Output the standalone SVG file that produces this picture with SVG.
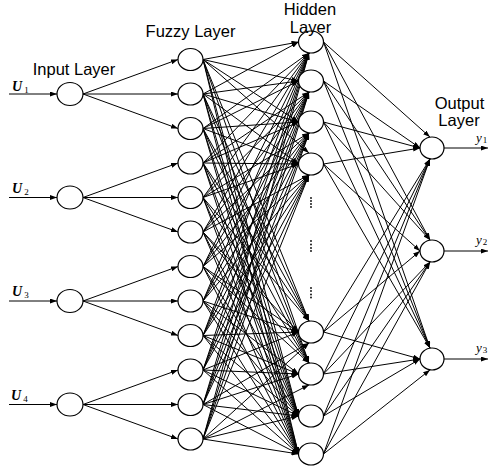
<svg xmlns="http://www.w3.org/2000/svg" width="489" height="468" viewBox="0 0 489 468">
<defs>
<marker id="a" viewBox="0 0 7 5" refX="7" refY="2.5" markerWidth="7" markerHeight="5" orient="auto" markerUnits="userSpaceOnUse"><path d="M0,0 L7,2.5 L0,5 z" fill="#000"/></marker>
<style>
.c line{stroke:#000;stroke-width:1;marker-end:url(#a)}
.n ellipse{fill:#fff;stroke:#000;stroke-width:1.2}
.l{font-family:"Liberation Sans",Arial,sans-serif;font-size:16.5px;fill:#000;text-anchor:middle}
.v{font-family:"Liberation Serif","Times New Roman",serif;font-style:italic;font-size:13px;fill:#000}
.u{font-weight:bold;font-size:14px}
.s{font-style:normal;font-weight:normal;font-size:9px}
.d circle{fill:#000}
</style>
</defs>
<rect width="489" height="468" fill="#fff"/>
<g id="connectors" class="c">
<line x1="9" y1="94" x2="57" y2="94"/>
<line x1="9" y1="197.5" x2="57" y2="197.5"/>
<line x1="9" y1="301" x2="57" y2="301"/>
<line x1="9" y1="404.5" x2="57" y2="404.5"/>
<line x1="83" y1="94" x2="178" y2="59.5"/>
<line x1="83" y1="94" x2="178" y2="94"/>
<line x1="83" y1="94" x2="178" y2="128.5"/>
<line x1="83" y1="197.5" x2="178" y2="163"/>
<line x1="83" y1="197.5" x2="178" y2="197.5"/>
<line x1="83" y1="197.5" x2="178" y2="232"/>
<line x1="83" y1="301" x2="178" y2="266.5"/>
<line x1="83" y1="301" x2="178" y2="301"/>
<line x1="83" y1="301" x2="178" y2="335.5"/>
<line x1="83" y1="404.5" x2="178" y2="370"/>
<line x1="83" y1="404.5" x2="178" y2="404.5"/>
<line x1="83" y1="404.5" x2="178" y2="439"/>
<!-- F1 -->
<line x1="203" y1="59.5" x2="298.5" y2="42"/>
<line x1="203" y1="59.5" x2="298.5" y2="81"/>
<line x1="203" y1="59.5" x2="298.5" y2="122"/>
<line x1="203" y1="59.5" x2="309" y2="153.1"/>
<line x1="203" y1="59.5" x2="309" y2="321.1"/>
<line x1="203" y1="59.5" x2="309" y2="363.1"/>
<line x1="203" y1="59.5" x2="298.5" y2="416"/>
<line x1="203" y1="59.5" x2="298.5" y2="454"/>
<!-- F2 -->
<line x1="203" y1="94" x2="298.5" y2="42"/>
<line x1="203" y1="94" x2="298.5" y2="81"/>
<line x1="203" y1="94" x2="298.5" y2="122"/>
<line x1="203" y1="94" x2="298.5" y2="164"/>
<line x1="203" y1="94" x2="309" y2="321.1"/>
<line x1="203" y1="94" x2="309" y2="363.1"/>
<line x1="203" y1="94" x2="298.5" y2="416"/>
<line x1="203" y1="94" x2="298.5" y2="454"/>
<!-- F3 -->
<line x1="203" y1="128.5" x2="309" y2="52.9"/>
<line x1="203" y1="128.5" x2="298.5" y2="81"/>
<line x1="203" y1="128.5" x2="298.5" y2="122"/>
<line x1="203" y1="128.5" x2="298.5" y2="164"/>
<line x1="203" y1="128.5" x2="309" y2="321.1"/>
<line x1="203" y1="128.5" x2="309" y2="363.1"/>
<line x1="203" y1="128.5" x2="298.5" y2="416"/>
<line x1="203" y1="128.5" x2="298.5" y2="454"/>
<!-- F4 -->
<line x1="203" y1="163" x2="309" y2="52.9"/>
<line x1="203" y1="163" x2="309" y2="91.9"/>
<line x1="203" y1="163" x2="298.5" y2="122"/>
<line x1="203" y1="163" x2="298.5" y2="164"/>
<line x1="203" y1="163" x2="309" y2="321.1"/>
<line x1="203" y1="163" x2="309" y2="363.1"/>
<line x1="203" y1="163" x2="298.5" y2="416"/>
<line x1="203" y1="163" x2="298.5" y2="454"/>
<!-- F5 -->
<line x1="203" y1="197.5" x2="309" y2="52.9"/>
<line x1="203" y1="197.5" x2="309" y2="91.9"/>
<line x1="203" y1="197.5" x2="309" y2="132.9"/>
<line x1="203" y1="197.5" x2="298.5" y2="164"/>
<line x1="203" y1="197.5" x2="309" y2="321.1"/>
<line x1="203" y1="197.5" x2="309" y2="363.1"/>
<line x1="203" y1="197.5" x2="298.5" y2="416"/>
<line x1="203" y1="197.5" x2="298.5" y2="454"/>
<!-- F6 -->
<line x1="203" y1="232" x2="309" y2="52.9"/>
<line x1="203" y1="232" x2="309" y2="91.9"/>
<line x1="203" y1="232" x2="309" y2="132.9"/>
<line x1="203" y1="232" x2="309" y2="174.9"/>
<line x1="203" y1="232" x2="298.5" y2="332"/>
<line x1="203" y1="232" x2="309" y2="363.1"/>
<line x1="203" y1="232" x2="298.5" y2="416"/>
<line x1="203" y1="232" x2="298.5" y2="454"/>
<!-- F7 -->
<line x1="203" y1="266.5" x2="309" y2="52.9"/>
<line x1="203" y1="266.5" x2="309" y2="91.9"/>
<line x1="203" y1="266.5" x2="309" y2="132.9"/>
<line x1="203" y1="266.5" x2="309" y2="174.9"/>
<line x1="203" y1="266.5" x2="298.5" y2="332"/>
<line x1="203" y1="266.5" x2="309" y2="363.1"/>
<line x1="203" y1="266.5" x2="298.5" y2="416"/>
<line x1="203" y1="266.5" x2="298.5" y2="454"/>
<!-- F8 -->
<line x1="203" y1="301" x2="309" y2="52.9"/>
<line x1="203" y1="301" x2="309" y2="91.9"/>
<line x1="203" y1="301" x2="309" y2="132.9"/>
<line x1="203" y1="301" x2="309" y2="174.9"/>
<line x1="203" y1="301" x2="298.5" y2="332"/>
<line x1="203" y1="301" x2="298.5" y2="374"/>
<line x1="203" y1="301" x2="298.5" y2="416"/>
<line x1="203" y1="301" x2="298.5" y2="454"/>
<!-- F9 -->
<line x1="203" y1="335.5" x2="309" y2="52.9"/>
<line x1="203" y1="335.5" x2="309" y2="91.9"/>
<line x1="203" y1="335.5" x2="309" y2="132.9"/>
<line x1="203" y1="335.5" x2="309" y2="174.9"/>
<line x1="203" y1="335.5" x2="298.5" y2="332"/>
<line x1="203" y1="335.5" x2="298.5" y2="374"/>
<line x1="203" y1="335.5" x2="298.5" y2="416"/>
<line x1="203" y1="335.5" x2="298.5" y2="454"/>
<!-- F10 -->
<line x1="203" y1="370" x2="309" y2="52.9"/>
<line x1="203" y1="370" x2="309" y2="91.9"/>
<line x1="203" y1="370" x2="309" y2="132.9"/>
<line x1="203" y1="370" x2="309" y2="174.9"/>
<line x1="203" y1="370" x2="298.5" y2="332"/>
<line x1="203" y1="370" x2="298.5" y2="374"/>
<line x1="203" y1="370" x2="298.5" y2="416"/>
<line x1="203" y1="370" x2="298.5" y2="454"/>
<!-- F11 -->
<line x1="203" y1="404.5" x2="309" y2="52.9"/>
<line x1="203" y1="404.5" x2="309" y2="91.9"/>
<line x1="203" y1="404.5" x2="309" y2="132.9"/>
<line x1="203" y1="404.5" x2="309" y2="174.9"/>
<line x1="203" y1="404.5" x2="309" y2="342.9"/>
<line x1="203" y1="404.5" x2="298.5" y2="374"/>
<line x1="203" y1="404.5" x2="298.5" y2="416"/>
<line x1="203" y1="404.5" x2="298.5" y2="454"/>
<!-- F12 -->
<line x1="203" y1="439" x2="309" y2="52.9"/>
<line x1="203" y1="439" x2="309" y2="91.9"/>
<line x1="203" y1="439" x2="309" y2="132.9"/>
<line x1="203" y1="439" x2="309" y2="174.9"/>
<line x1="203" y1="439" x2="309" y2="342.9"/>
<line x1="203" y1="439" x2="309" y2="384.9"/>
<line x1="203" y1="439" x2="298.5" y2="416"/>
<line x1="203" y1="439" x2="298.5" y2="454"/>
<!-- hidden to output -->
<line x1="323.5" y1="42" x2="430" y2="137.1"/>
<line x1="323.5" y1="42" x2="430" y2="240.1"/>
<line x1="323.5" y1="42" x2="430" y2="348.1"/>
<line x1="323.5" y1="81" x2="420" y2="148"/>
<line x1="323.5" y1="81" x2="430" y2="240.1"/>
<line x1="323.5" y1="81" x2="430" y2="348.1"/>
<line x1="323.5" y1="122" x2="420" y2="148"/>
<line x1="323.5" y1="122" x2="430" y2="240.1"/>
<line x1="323.5" y1="122" x2="430" y2="348.1"/>
<line x1="323.5" y1="164" x2="420" y2="148"/>
<line x1="323.5" y1="164" x2="420" y2="251"/>
<line x1="323.5" y1="164" x2="430" y2="348.1"/>
<line x1="323.5" y1="332" x2="430" y2="158.9"/>
<line x1="323.5" y1="332" x2="420" y2="251"/>
<line x1="323.5" y1="332" x2="420" y2="359"/>
<line x1="323.5" y1="374" x2="430" y2="158.9"/>
<line x1="323.5" y1="374" x2="430" y2="261.9"/>
<line x1="323.5" y1="374" x2="420" y2="359"/>
<line x1="323.5" y1="416" x2="430" y2="158.9"/>
<line x1="323.5" y1="416" x2="430" y2="261.9"/>
<line x1="323.5" y1="416" x2="420" y2="359"/>
<line x1="323.5" y1="454" x2="430" y2="158.9"/>
<line x1="323.5" y1="454" x2="430" y2="261.9"/>
<line x1="323.5" y1="454" x2="430" y2="369.9"/>
<line x1="444" y1="148" x2="488" y2="148"/>
<line x1="444" y1="251" x2="488" y2="251"/>
<line x1="444" y1="359" x2="488" y2="359"/>
</g>
<g class="n">
<g id="in1"><ellipse cx="70" cy="94" rx="13" ry="11.5"/></g>
<g id="in2"><ellipse cx="70" cy="197.5" rx="13" ry="11.5"/></g>
<g id="in3"><ellipse cx="70" cy="301" rx="13" ry="11.5"/></g>
<g id="in4"><ellipse cx="70" cy="404.5" rx="13" ry="11.5"/></g>
<g id="fz1"><ellipse cx="190.5" cy="59.5" rx="12.5" ry="11"/></g>
<g id="fz2"><ellipse cx="190.5" cy="94" rx="12.5" ry="11"/></g>
<g id="fz3"><ellipse cx="190.5" cy="128.5" rx="12.5" ry="11"/></g>
<g id="fz4"><ellipse cx="190.5" cy="163" rx="12.5" ry="11"/></g>
<g id="fz5"><ellipse cx="190.5" cy="197.5" rx="12.5" ry="11"/></g>
<g id="fz6"><ellipse cx="190.5" cy="232" rx="12.5" ry="11"/></g>
<g id="fz7"><ellipse cx="190.5" cy="266.5" rx="12.5" ry="11"/></g>
<g id="fz8"><ellipse cx="190.5" cy="301" rx="12.5" ry="11"/></g>
<g id="fz9"><ellipse cx="190.5" cy="335.5" rx="12.5" ry="11"/></g>
<g id="fz10"><ellipse cx="190.5" cy="370" rx="12.5" ry="11"/></g>
<g id="fz11"><ellipse cx="190.5" cy="404.5" rx="12.5" ry="11"/></g>
<g id="fz12"><ellipse cx="190.5" cy="439" rx="12.5" ry="11"/></g>
<g id="h1"><ellipse cx="311" cy="42" rx="12.5" ry="11"/></g>
<g id="h2"><ellipse cx="311" cy="81" rx="12.5" ry="11"/></g>
<g id="h3"><ellipse cx="311" cy="122" rx="12.5" ry="11"/></g>
<g id="h4"><ellipse cx="311" cy="164" rx="12.5" ry="11"/></g>
<g id="h5"><ellipse cx="311" cy="332" rx="12.5" ry="11"/></g>
<g id="h6"><ellipse cx="311" cy="374" rx="12.5" ry="11"/></g>
<g id="h7"><ellipse cx="311" cy="416" rx="12.5" ry="11"/></g>
<g id="h8"><ellipse cx="311" cy="454" rx="12.5" ry="11"/></g>
<g id="o1"><ellipse cx="432" cy="148" rx="12" ry="11"/></g>
<g id="o2"><ellipse cx="432" cy="251" rx="12" ry="11"/></g>
<g id="o3"><ellipse cx="432" cy="359" rx="12" ry="11"/></g>
</g>
<g id="dots" class="d">
<circle cx="311" cy="198" r="0.9"/><circle cx="311" cy="201" r="0.9"/><circle cx="311" cy="204" r="0.9"/><circle cx="311" cy="207" r="0.9"/>
<circle cx="311" cy="241" r="0.9"/><circle cx="311" cy="244.5" r="0.9"/><circle cx="311" cy="248" r="0.9"/><circle cx="311" cy="251" r="0.9"/>
<circle cx="311" cy="288" r="0.9"/><circle cx="311" cy="291" r="0.9"/><circle cx="311" cy="294.5" r="0.9"/><circle cx="311" cy="297.5" r="0.9"/>
</g>
<g id="labels">
<text class="l" x="74" y="75">Input Layer</text>
<text class="l" x="190.5" y="37">Fuzzy Layer</text>
<text class="l" x="310" y="14.5">Hidden</text>
<text class="l" x="310.5" y="32.5">Layer</text>
<text class="l" x="459.5" y="108.5">Output</text>
<text class="l" x="459" y="126">Layer</text>
<text class="v u" x="12" y="91">U<tspan class="s" dx="2" dy="2">1</tspan></text>
<text class="v u" x="12" y="193">U<tspan class="s" dx="2" dy="2">2</tspan></text>
<text class="v u" x="12" y="296">U<tspan class="s" dx="2" dy="2">3</tspan></text>
<text class="v u" x="11" y="400">U<tspan class="s" dx="2" dy="2">4</tspan></text>
<text class="v" x="476" y="142">y<tspan class="s" dx="1" dy="1">1</tspan></text>
<text class="v" x="476" y="244">y<tspan class="s" dx="1" dy="1">2</tspan></text>
<text class="v" x="476" y="352">y<tspan class="s" dx="1" dy="1">3</tspan></text>
</g>
</svg>
